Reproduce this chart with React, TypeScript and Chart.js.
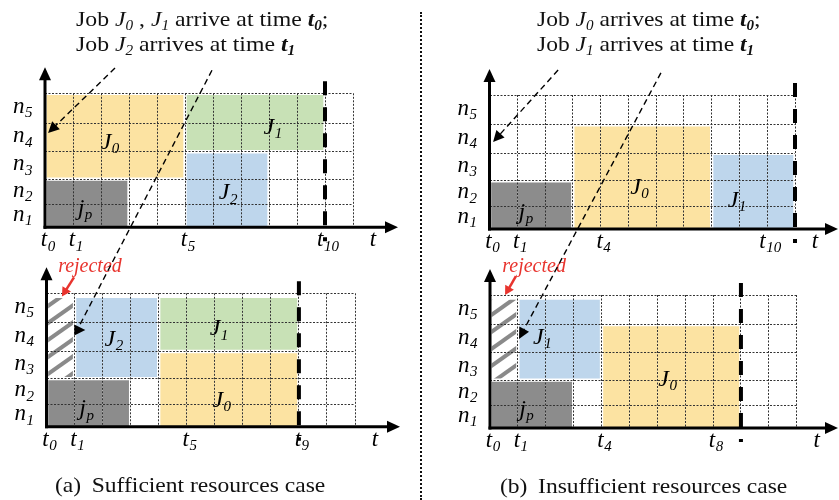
import React, { useEffect, useRef } from 'react';
import { Chart, registerables } from 'chart.js';

Chart.register(...registerables);

const WIDTH = 839;
const HEIGHT = 500;
const SERIF = '"Liberation Serif", "Times New Roman", Tinos, Times, serif';

// ---------------- data ----------------
const ROW_SUBS = ['1', '2', '3', '4', '5'];          // n1 .. n5
const ROW_EDGES = [0, 0.85, 1.8, 2.82, 3.89, 5];      // row boundaries on the node axis
const TIME_SLOTS = 11;

// Blocks: [job, startSlot, endSlot, fromRowEdge, toRowEdge]
type Block = [string, number, number, number, number];
const A_TOP_BLOCKS: Block[] = [
  ['jp', 0, 3, 0, 2],
  ['J0', 0, 5, 2, 5],
  ['J1', 5, 10, 3, 5],
  ['J2', 5, 8, 0, 3],
];
const A_BOTTOM_BLOCKS: Block[] = [
  ['R', 0, 1, 2, 5],
  ['jp', 0, 3, 0, 2],
  ['J2', 1, 4, 2, 5],
  ['J1', 4, 9, 3, 5],
  ['J0', 4, 9, 0, 3],
];
const B_TOP_BLOCKS: Block[] = [
  ['jp', 0, 3, 0, 2],
  ['J0', 3, 8, 0, 4],
  ['J1', 8, 11, 0, 3],
];
const B_BOTTOM_BLOCKS: Block[] = [
  ['R', 0, 1, 2, 5],
  ['jp', 0, 3, 0, 2],
  ['J1', 1, 4, 2, 5],
  ['J0', 4, 9, 0, 4],
];

// time tick labels (t_k at slot k)
const A_TOP_TICKS = [0, 1, 5, 10];
const A_BOTTOM_TICKS = [0, 1, 5, 9];
const B_TOP_TICKS = [0, 1, 4, 10];
const B_BOTTOM_TICKS = [0, 1, 4, 8];

// deadline (thick dashed line) slot
const A_TOP_DEADLINE = 10;
const A_BOTTOM_DEADLINE = 9;
const B_TOP_DEADLINE = 11;
const B_BOTTOM_DEADLINE = 9;

// job label anchors: [job, time, node]
type Anchor = [string, number, number];
const A_TOP_LABELS: Anchor[] = [['J0', 2.32, 3.22], ['J1', 8.14, 3.78], ['J2', 6.54, 1.34], ['jp', 1.43, 0.76]];
const A_BOTTOM_LABELS: Anchor[] = [['J2', 2.4, 3.32], ['J1', 6.15, 3.72], ['J0', 6.25, 1.04], ['jp', 1.43, 0.72]];
const B_TOP_LABELS: Anchor[] = [['J0', 5.4, 1.61], ['J1', 8.91, 1.12], ['jp', 1.31, 0.68]];
const B_BOTTOM_LABELS: Anchor[] = [['J1', 1.88, 3.47], ['J0', 6.37, 1.87], ['jp', 1.31, 0.77]];

// arrival arrows: [fromTime, fromNode, toTime, toNode, fixedHeadAngle|null]
type Arrow = [number, number, number, number, number | null];
const A_TOP_ARROWS: Arrow[] = [[2.5, 5.94, 0.11, 3.52, null]];
const A_BOTTOM_ARROWS: Arrow[] = [[5.9, 13.36, 1.09, 3.62, 0]];
const B_TOP_ARROWS: Arrow[] = [[2.47, 5.93, 0.13, 3.25, null]];
const B_BOTTOM_ARROWS: Arrow[] = [[6.13, 13.35, 1.04, 3.35, null]];

// "rejected" note: [textTime, textNode, fromTime, fromNode, toTime, toNode]
type Reject = [number, number, number, number, number, number];
const A_BOTTOM_REJECT: Reject = [1.55, 5.94, 0.98, 5.6, 0.55, 4.88];
const B_BOTTOM_REJECT: Reject = [1.58, 6.02, 0.93, 5.71, 0.54, 5.0];

// ---------------- styles ----------------
const YELLOW = '#FCE3A2';
const GREEN = '#C8E1B6';
const BLUE = '#BED6EC';
const GREY = '#8C8C8C';
const COLORS_A: Record<string, string> = { jp: GREY, J0: YELLOW, J1: GREEN, J2: BLUE, R: 'hatch' };
const COLORS_B: Record<string, string> = { jp: GREY, J0: YELLOW, J1: BLUE, R: 'hatch' };

type Area = { left: number; right: number; top: number; bottom: number; topInset: number };
const AREA_A_TOP: Area = { left: 45, right: 353, top: 93.3, bottom: 227.3, topInset: 2 };
const AREA_A_BOTTOM: Area = { left: 46.5, right: 355, top: 293.3, bottom: 426.7, topInset: 5 };
const AREA_B_TOP: Area = { left: 489.5, right: 795, top: 95, bottom: 229, topInset: 2 };
const AREA_B_BOTTOM: Area = { left: 490, right: 796.7, top: 295, bottom: 428, topInset: 5 };

type PanelSpec = {
  key: string;
  blocks: Block[];
  labels: Anchor[];
  ticks: number[];
  deadline: number;
  arrows: Arrow[];
  reject: Reject | null;
  colors: Record<string, string>;
  area: Area;
};

const PANELS: PanelSpec[] = [
  { key: 'aTop', blocks: A_TOP_BLOCKS, labels: A_TOP_LABELS, ticks: A_TOP_TICKS, deadline: A_TOP_DEADLINE, arrows: A_TOP_ARROWS, reject: null, colors: COLORS_A, area: AREA_A_TOP },
  { key: 'aBottom', blocks: A_BOTTOM_BLOCKS, labels: A_BOTTOM_LABELS, ticks: A_BOTTOM_TICKS, deadline: A_BOTTOM_DEADLINE, arrows: A_BOTTOM_ARROWS, reject: A_BOTTOM_REJECT, colors: COLORS_A, area: AREA_A_BOTTOM },
  { key: 'bTop', blocks: B_TOP_BLOCKS, labels: B_TOP_LABELS, ticks: B_TOP_TICKS, deadline: B_TOP_DEADLINE, arrows: B_TOP_ARROWS, reject: null, colors: COLORS_B, area: AREA_B_TOP },
  { key: 'bBottom', blocks: B_BOTTOM_BLOCKS, labels: B_BOTTOM_LABELS, ticks: B_BOTTOM_TICKS, deadline: B_BOTTOM_DEADLINE, arrows: B_BOTTOM_ARROWS, reject: B_BOTTOM_REJECT, colors: COLORS_B, area: AREA_B_BOTTOM },
];

const GAP = 2;

function makeHatch(): CanvasPattern | string {
  const c = document.createElement('canvas');
  const w = 24, h = 17;
  c.width = w; c.height = h;
  const g = c.getContext('2d');
  if (!g) return '#ccc';
  g.fillStyle = '#ffffff';
  g.fillRect(0, 0, w, h);
  g.strokeStyle = '#8a8a8a';
  g.lineWidth = 4;
  for (const dy of [-h, 0, h]) {
    g.beginPath();
    g.moveTo(-2, h + dy + (2 * h) / w);
    g.lineTo(w + 2, dy - (2 * h) / w);
    g.stroke();
  }
  return g.createPattern(c, 'repeat') || '#ccc';
}

function drawSub(
  ctx: CanvasRenderingContext2D, main: string, sub: string, x: number, y: number,
  size: number, subSize: number, align: 'left' | 'center', color = '#000',
) {
  const mf = `italic ${size}px ${SERIF}`;
  const sf = `italic ${subSize}px ${SERIF}`;
  ctx.font = mf;
  const mw = ctx.measureText(main).width;
  ctx.font = sf;
  const sw = sub ? ctx.measureText(sub).width : 0;
  const kern = sub ? 0.5 : 0;
  const total = mw + kern + sw;
  const sx = align === 'center' ? x - total / 2 : x;
  ctx.fillStyle = color;
  ctx.textAlign = 'left';
  ctx.textBaseline = 'alphabetic';
  ctx.font = mf;
  ctx.fillText(main, sx, y);
  if (sub) {
    ctx.font = sf;
    ctx.fillText(sub, sx + mw + kern, y + subSize * 0.28);
  }
}

function drawArrow(
  ctx: CanvasRenderingContext2D, x1: number, y1: number, x2: number, y2: number,
  fixedAngle: number | null, color: string, width: number, dash: number[], L: number, hw: number,
) {
  ctx.save();
  ctx.strokeStyle = color;
  ctx.fillStyle = color;
  ctx.lineWidth = width;
  ctx.setLineDash(dash);
  const lineAng = Math.atan2(y2 - y1, x2 - x1);
  let tipX: number, tipY: number, ang: number, endX: number, endY: number;
  if (fixedAngle == null) {
    ang = lineAng;
    tipX = x2; tipY = y2;
    endX = x2 - Math.cos(ang) * L * 0.7;
    endY = y2 - Math.sin(ang) * L * 0.7;
  } else {
    ang = (fixedAngle * Math.PI) / 180;
    endX = x2; endY = y2;
    tipX = x2 + Math.cos(ang) * L * 0.75;
    tipY = y2 + Math.sin(ang) * L * 0.75;
  }
  ctx.beginPath();
  ctx.moveTo(x1, y1);
  ctx.lineTo(endX, endY);
  ctx.stroke();
  ctx.setLineDash([]);
  const c = Math.cos(ang), s = Math.sin(ang);
  ctx.beginPath();
  ctx.moveTo(tipX, tipY);
  ctx.lineTo(tipX - c * L + s * hw, tipY - s * L - c * hw);
  ctx.lineTo(tipX - c * L - s * hw, tipY - s * L + c * hw);
  ctx.closePath();
  ctx.fill();
  ctx.restore();
}

function schedulePlugin(p: PanelSpec) {
  return {
    id: 'schedule-' + p.key,
    afterDraw(chart: any) {
      const ctx: CanvasRenderingContext2D = chart.ctx;
      const xs = chart.scales.x;
      const ys = chart.scales.y;
      const X = (v: number) => xs.getPixelForValue(v);
      const Y = (v: number) => ys.getPixelForValue(v);
      const { left, right, top, bottom } = chart.chartArea;
      ctx.save();

      // deadline
      ctx.strokeStyle = '#000';
      ctx.lineWidth = 4;
      ctx.setLineDash([14, 12]);
      ctx.beginPath();
      ctx.moveTo(X(p.deadline), top - 12);
      ctx.lineTo(X(p.deadline), bottom + 14);
      ctx.stroke();
      ctx.setLineDash([]);

      // axes with arrowheads
      const yTip = top - 26;
      const xTip = Math.min(right + 45, WIDTH - 1);
      ctx.lineWidth = 3;
      ctx.fillStyle = '#000';
      ctx.beginPath();
      ctx.moveTo(left, bottom + 1.5);
      ctx.lineTo(left, yTip + 8);
      ctx.stroke();
      ctx.beginPath();
      ctx.moveTo(left, yTip);
      ctx.lineTo(left - 6, yTip + 13);
      ctx.lineTo(left + 6, yTip + 13);
      ctx.closePath();
      ctx.fill();
      ctx.beginPath();
      ctx.moveTo(left - 1.5, bottom);
      ctx.lineTo(xTip - 8, bottom);
      ctx.stroke();
      ctx.beginPath();
      ctx.moveTo(xTip, bottom);
      ctx.lineTo(xTip - 13, bottom - 6);
      ctx.lineTo(xTip - 13, bottom + 6);
      ctx.closePath();
      ctx.fill();

      // node labels
      for (let i = 0; i < ROW_SUBS.length; i++) {
        const c = (ROW_EDGES[i] + ROW_EDGES[i + 1]) / 2;
        drawSub(ctx, 'n', ROW_SUBS[i], left - 32, Y(c) + 5, 23, 15, 'left');
      }
      // time labels
      for (const t of p.ticks) {
        drawSub(ctx, 't', String(t), X(t) + 3, bottom + 19, 23, 15, 'center');
      }
      drawSub(ctx, 't', '', right + 20, bottom + 19, 23, 15, 'center');

      // job labels
      for (const [job, t, n] of p.labels) {
        drawSub(ctx, job[0], job.slice(1), X(t), Y(n) + 8, 24, 15, 'center');
      }

      // rejected note
      if (p.reject) {
        const [tt, tn, ft, fn, et, en] = p.reject;
        ctx.font = `italic 20px ${SERIF}`;
        ctx.fillStyle = '#E8342E';
        ctx.textAlign = 'center';
        ctx.textBaseline = 'alphabetic';
        ctx.fillText('rejected', X(tt), Y(tn) + 4);
        drawArrow(ctx, X(ft), Y(fn), X(et), Y(en), null, '#E8342E', 2.5, [], 9, 5);
      }

      // arrival arrows
      for (const [ft, fn, et, en, ang] of p.arrows) {
        drawArrow(ctx, X(ft), Y(fn), X(et), Y(en), ang, '#000', 1.4, [6, 4], 11, 5.5);
      }

      ctx.restore();
    },
  };
}

function buildConfig(p: PanelSpec): any {
  const hatch = makeHatch();
  const lastEdge = ROW_EDGES.length - 1;
  const datasets = p.blocks.map(([job, start, end, lo, hi]) => {
    const count = end - start;
    const data: { x: number; y: number[] }[] = [];
    for (let c = start; c < end; c++) data.push({ x: c + 0.5, y: [ROW_EDGES[lo], ROW_EDGES[hi]] });
    const col = p.colors[job];
    return {
      label: job,
      data,
      backgroundColor: col === 'hatch' ? hatch : col,
      borderColor: '#ffffff',
      borderWidth: (ctx: any) => ({
        left: ctx.dataIndex === 0 ? GAP : 0,
        right: ctx.dataIndex === count - 1 ? GAP : 0,
        top: hi === lastEdge ? p.area.topInset : GAP,
        bottom: lo === 0 ? 0 : GAP,
      }),
      borderSkipped: false,
      grouped: false,
      barPercentage: 1,
      categoryPercentage: 1,
    };
  });
  const grid = { color: '#333333', lineWidth: 1, drawTicks: false, offset: false, z: 1 };
  const border = { display: false, dash: [2, 1.5] };
  return {
    type: 'bar',
    data: { datasets },
    options: {
      animation: false,
      responsive: false,
      devicePixelRatio: 1,
      events: [],
      layout: {
        padding: {
          left: p.area.left,
          right: WIDTH - p.area.right,
          top: p.area.top,
          bottom: HEIGHT - p.area.bottom,
        },
      },
      plugins: { legend: { display: false }, tooltip: { enabled: false }, title: { display: false } },
      scales: {
        x: {
          type: 'linear', min: 0, max: TIME_SLOTS, offset: false,
          ticks: { display: false, stepSize: 1 },
          grid, border,
        },
        y: {
          type: 'linear', min: 0, max: ROW_EDGES[lastEdge],
          afterBuildTicks: (s: any) => { s.ticks = ROW_EDGES.map((v) => ({ value: v })); },
          ticks: { display: false },
          grid, border,
        },
      },
    },
    plugins: [schedulePlugin(p)],
  };
}

function Panel({ spec }: { spec: PanelSpec }) {
  const ref = useRef<HTMLCanvasElement>(null);
  useEffect(() => {
    if (!ref.current) return;
    const chart = new Chart(ref.current, buildConfig(spec));
    return () => chart.destroy();
  }, [spec]);
  return (
    <canvas ref={ref} width={WIDTH} height={HEIGHT}
      style={{ position: 'absolute', left: 0, top: 0, width: WIDTH, height: HEIGHT }} />
  );
}

const Sub = ({ c }: { c: string }) => (
  <span style={{ fontSize: '0.64em', position: 'relative', top: '0.28em' }}>{c}</span>
);
const It = ({ m, s }: { m: string; s: string }) => (<i>{m}<Sub c={s} /></i>);

function TextLine({ left, baseline, size, sx = 1.07, children }: { left: number; baseline: number; size: number; sx?: number; children: React.ReactNode }) {
  return (
    <div style={{
      position: 'absolute', left, top: baseline - 0.8375 * size, fontSize: size,
      lineHeight: `${size}px`, whiteSpace: 'pre', color: '#111',
      transform: `scaleX(${sx})`, transformOrigin: 'left top',
    }}>{children}</div>
  );
}

export default function App() {
  return (
    <div style={{
      position: 'absolute', left: 0, top: 0, width: WIDTH, height: HEIGHT,
      background: '#fff', overflow: 'hidden', fontFamily: SERIF,
    }}>
      {PANELS.map((p) => <Panel key={p.key} spec={p} />)}
      <div style={{ position: 'absolute', left: 420, top: 12, height: 488, borderLeft: '2px dotted #111' }} />
      <TextLine left={76} baseline={26.7} size={22} sx={1.08}>
        Job <It m="J" s="0" /> , <It m="J" s="1" /> arrive at time <b><It m="t" s="0" /></b>;
      </TextLine>
      <TextLine left={76} baseline={51.7} size={22} sx={1.08}>
        Job <It m="J" s="2" /> arrives at time <b><It m="t" s="1" /></b>
      </TextLine>
      <TextLine left={537} baseline={26.7} size={22}>
        Job <It m="J" s="0" /> arrives at time <b><It m="t" s="0" /></b>;
      </TextLine>
      <TextLine left={537} baseline={51.7} size={22}>
        Job <It m="J" s="1" /> arrives at time <b><It m="t" s="1" /></b>
      </TextLine>
      <TextLine left={55} baseline={492.7} size={22}>
        {'(a)\u2009 Sufficient resources case'}
      </TextLine>
      <TextLine left={500} baseline={493} size={22}>
        {'(b)\u2009 Insufficient resources case'}
      </TextLine>
    </div>
  );
}
